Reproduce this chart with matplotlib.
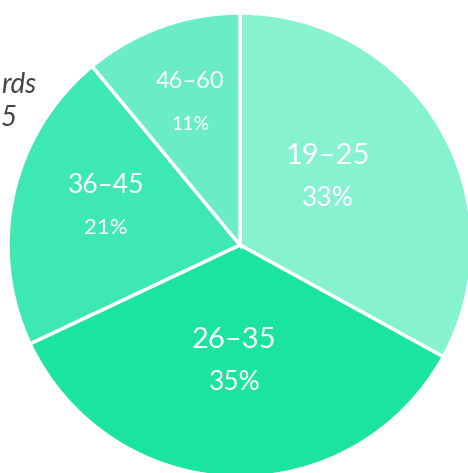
"""
Круговая диаграмма: распределение по возрастным группам.
"""
import numpy as np
import matplotlib.pyplot as plt

plt.rcParams['font.family'] = ['Lato', 'DejaVu Sans']

# Данные
age_groups = ['19–25', '26–35', '36–45', '46–60']
shares = [33, 35, 21, 11]
colors = ['#86F2CF', '#1AE4A0', '#3EE8B4', '#6AEDC4']

# Положение подписей: доля радиуса и сдвиг угла (градусы)
label_r = [0.48, 0.50, 0.60, 0.65]
label_dang = [7.0, -1.0, -3.5, -0.5]
name_size = [21, 21, 19, 17]
pct_size = [19, 19, 16, 14]

W, H = 468, 473
CX, CY, R = 240, 245, 232

fig = plt.figure(figsize=(W / 100, H / 100), dpi=100)
ax = fig.add_axes([0, 0, 1, 1])

wedges, _ = ax.pie(shares, colors=colors, startangle=90, counterclock=False,
                   radius=1.0, center=(0, 0), frame=True,
                   wedgeprops=dict(edgecolor='white', linewidth=2.5))
ax.set_xlim(-CX / R, (W - CX) / R)
ax.set_ylim((CY - H) / R, CY / R)
ax.set_aspect('equal')
ax.axis('off')

for i, w in enumerate(wedges):
    mid = np.deg2rad((w.theta1 + w.theta2) / 2 + label_dang[i])
    x = label_r[i] * np.cos(mid)
    y = label_r[i] * np.sin(mid)
    ax.text(x, y + 0.09, age_groups[i], color='white', fontsize=name_size[i],
            ha='center', va='center')
    ax.text(x, y - 0.092, f'{shares[i]}%', color='white', fontsize=pct_size[i],
            ha='center', va='center')

# Обрезанный заголовок слева (видна только часть)
fig.text(1 / W, 1 - 93 / H, 'rds', ha='left', va='baseline',
         fontsize=20, style='italic', color='#444444')
fig.text(1 / W, 1 - 126 / H, '5', ha='left', va='baseline',
         fontsize=20, style='italic', color='#444444')

fig.savefig('out.png', dpi=100)
